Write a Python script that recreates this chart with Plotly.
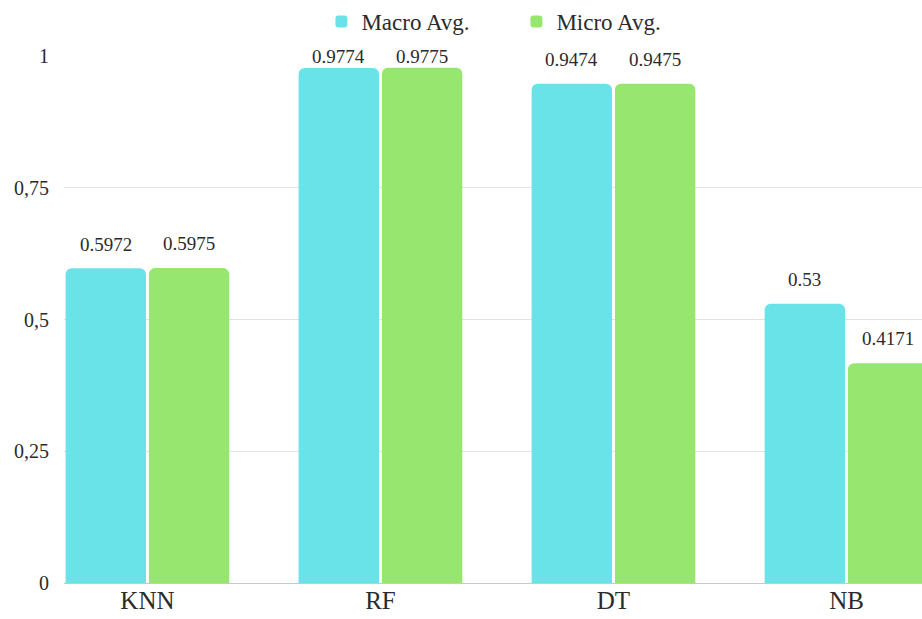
import plotly.graph_objects as go

# Classifier comparison: macro vs micro averaged scores
models = ["KNN", "RF", "DT", "NB"]
macro_avg = [0.5972, 0.9774, 0.9474, 0.53]
micro_avg = [0.5975, 0.9775, 0.9475, 0.4171]
macro_labels = ["0.5972", "0.9774", "0.9474", "0.53"]
micro_labels = ["0.5975", "0.9775", "0.9475", "0.4171"]

y_ticks = [0, 0.25, 0.5, 0.75, 1]
y_tick_text = ["0", "0,25", "0,5", "0,75", "1"]

MACRO_COLOR = "#69E3E8"
MICRO_COLOR = "#96E670"
FONT = "'Liberation Serif', 'Times New Roman', Times, serif"
TEXT_COLOR = "#2b2b2b"

BARGAP = 0.285

fig = go.Figure()
fig.add_trace(go.Bar(name="Macro Avg.", x=models, y=macro_avg,
                     marker=dict(color=MACRO_COLOR, line=dict(width=0))))
fig.add_trace(go.Bar(name="Micro Avg.", x=models, y=micro_avg,
                     marker=dict(color=MICRO_COLOR, line=dict(width=0))))

# value labels above each bar, kept below the top of the axis
slot = (1 - BARGAP) / 2
annotations = []
for k, (vals, labels) in enumerate([(macro_avg, macro_labels), (micro_avg, micro_labels)]):
    shift = (k - 0.5) * slot
    for i, (v, lab) in enumerate(zip(vals, labels)):
        annotations.append(dict(
            x=i + shift, xref="x",
            y=min(v + 0.046, 1.0), yref="y",
            text=lab, showarrow=False, yanchor="middle", xanchor="center",
            font=dict(family=FONT, size=19, color=TEXT_COLOR),
        ))

fig.update_layout(
    width=922, height=619,
    margin=dict(l=64, r=0, t=52, b=36),
    paper_bgcolor="white", plot_bgcolor="white",
    barmode="group", bargap=BARGAP, bargroupgap=0.035,
    barcornerradius=6,
    font=dict(family=FONT, color=TEXT_COLOR),
    legend=dict(orientation="h", x=0.300, xanchor="left", y=1.066, yanchor="middle",
                font=dict(family=FONT, size=23, color=TEXT_COLOR),
                itemwidth=30, entrywidth=150, entrywidthmode="pixels",
                traceorder="normal"),
    annotations=annotations,
    xaxis=dict(range=[-0.358, 3.324], showgrid=False, showline=False, zeroline=False,
               ticks="", tickfont=dict(family=FONT, size=25, color=TEXT_COLOR)),
    yaxis=dict(range=[0, 1], tickvals=y_ticks, ticktext=y_tick_text,
               showgrid=True, gridcolor="#e2e2e2", gridwidth=1,
               zeroline=True, zerolinecolor="#c8c8c8", zerolinewidth=1,
               showline=False, ticks="", ticklabelstandoff=14,
               tickfont=dict(family=FONT, size=20, color=TEXT_COLOR)),
)

fig.write_html("out.html")
